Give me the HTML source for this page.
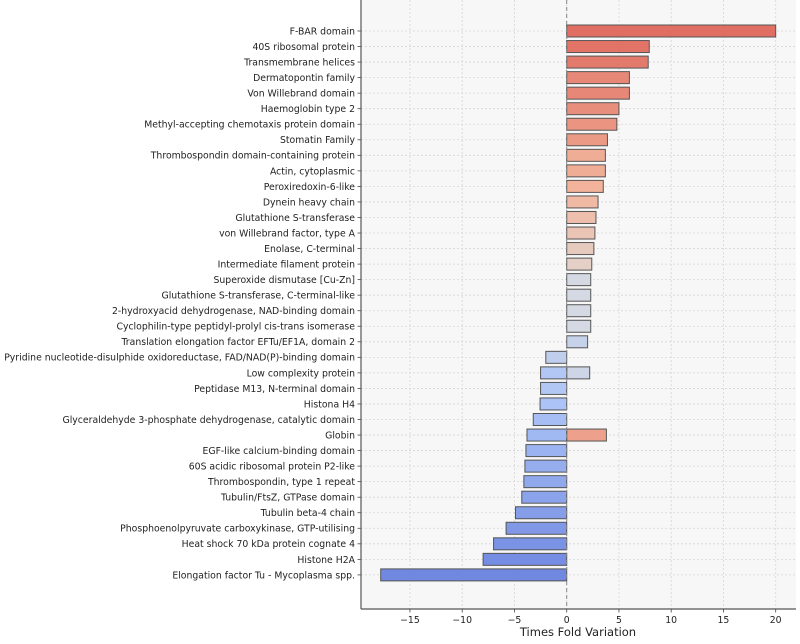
<!DOCTYPE html>
<html><head><meta charset="utf-8"><style>
body{margin:0;background:#fff;font-family:"DejaVu Sans","Liberation Sans",sans-serif;}
svg text{font-family:"DejaVu Sans","Liberation Sans",sans-serif;}
</style></head><body>
<svg id="chart" width="800" height="640" xmlns="http://www.w3.org/2000/svg"></svg>
<script>
const barLabels = ["F-BAR domain","40S ribosomal protein","Transmembrane helices","Dermatopontin family","Von Willebrand domain","Haemoglobin type 2","Methyl-accepting chemotaxis protein domain","Stomatin Family","Thrombospondin domain-containing protein","Actin, cytoplasmic","Peroxiredoxin-6-like","Dynein heavy chain","Glutathione S-transferase","von Willebrand factor, type A","Enolase, C-terminal","Intermediate filament protein","Superoxide dismutase [Cu-Zn]","Glutathione S-transferase, C-terminal-like","2-hydroxyacid dehydrogenase, NAD-binding domain","Cyclophilin-type peptidyl-prolyl cis-trans isomerase","Translation elongation factor EFTu/EF1A, domain 2","Pyridine nucleotide-disulphide oxidoreductase, FAD/NAD(P)-binding domain","Low complexity protein","Low complexity protein","Peptidase M13, N-terminal domain","Histona H4","Glyceraldehyde 3-phosphate dehydrogenase, catalytic domain","Globin","Globin","EGF-like calcium-binding domain","60S acidic ribosomal protein P2-like","Thrombospondin, type 1 repeat","Tubulin/FtsZ, GTPase domain","Tubulin beta-4 chain","Phosphoenolpyruvate carboxykinase, GTP-utilising","Heat shock 70 kDa protein cognate 4","Histone H2A","Elongation factor Tu - Mycoplasma spp."];
const barValues = [20,7.9,7.8,6.0,6.0,5.0,4.8,3.9,3.7,3.7,3.5,3.0,2.8,2.7,2.6,2.4,2.3,2.3,2.3,2.3,2.0,-2.0,2.2,-2.5,-2.5,-2.55,-3.2,3.8,-3.8,-3.9,-4.0,-4.1,-4.3,-4.9,-5.8,-7.0,-8.0,-17.8];
const xTicks = [-15,-10,-5,0,5,10,15,20];

const svg = document.getElementById('chart');
const NS = 'http://www.w3.org/2000/svg';
const L = 361, R = 796, T = 0, B = 609;
const x0 = 566.7, pxPer = 10.45;
const X = v => x0 + v * pxPer;
const rows = [];
barLabels.forEach(l => { if (!rows.includes(l)) rows.push(l); });
const Y = i => 31 + i * 15.54;
function mk(tag, attrs, parent) { const e = document.createElementNS(NS, tag); for (const k in attrs) e.setAttribute(k, attrs[k]); (parent || svg).appendChild(e); return e; }

const bg = mk('rect', {x:L, y:T, width:R-L, height:B-T, fill:'#f7f7f7'});



xTicks.forEach(t => {
  const g = mk('line', {x1:X(t), x2:X(t), y1:T, y2:B, stroke:'#d6d6d6', 'stroke-dasharray':'2,2', 'stroke-width':0.8});
  
  
});
rows.forEach((r, i) => {
  const g = mk('line', {x1:L, x2:R, y1:Y(i), y2:Y(i), stroke:'#d6d6d6', 'stroke-dasharray':'2,2', 'stroke-width':0.8});
  
  
});

const stops = [[0,[112,136,224]],[0.3,[172,196,246]],[0.5,[222,222,222]],[0.7,[242,180,155]],[1,[224,110,98]]];
function cmap(t) {
  for (let k = 1; k < stops.length; k++) {
    if (t <= stops[k][0]) {
      const a = stops[k-1], b = stops[k], f = (t - a[0]) / (b[0] - a[0]);
      return 'rgb(' + a[1].map((c, j) => Math.round(c + (b[1][j] - c) * f)).join(',') + ')';
    }
  }
  return 'rgb(' + stops[stops.length-1][1].join(',') + ')';
}
const sorted = barValues.slice().sort((a, b) => a - b);
const bh = 12;
barValues.forEach((v, i) => {
  const ri = rows.indexOf(barLabels[i]);
  const t = sorted.indexOf(v) / (sorted.length - 1);
  const r = mk('rect', {x:Math.min(X(0), X(v)), y:Y(ri) - bh/2, width:Math.abs(X(v) - X(0)), height:bh, fill:cmap(t), stroke:'#555', 'stroke-width':1});
  
  
});

const zl = mk('line', {x1:X(0), x2:X(0), y1:T, y2:B, stroke:'#888', 'stroke-dasharray':'4,3', 'stroke-width':1});



rows.forEach((r, i) => {
  const tk = mk('line', {x1:L-3.5, x2:L, y1:Y(i), y2:Y(i), stroke:'#444', 'stroke-width':0.8});
  
  
  const tx = mk('text', {x:L-6, y:Y(i)+3.4, 'text-anchor':'end', 'font-size':9.3, fill:'#222'});
  tx.textContent = r;
  
  
});
xTicks.forEach(t => {
  const tk = mk('line', {x1:X(t), x2:X(t), y1:B, y2:B+3.5, stroke:'#444', 'stroke-width':0.8});
  
  
  const tx = mk('text', {x:X(t), y:B+14, 'text-anchor':'middle', 'font-size':9.3, fill:'#222'});
  tx.textContent = t < 0 ? '\u2212' + Math.abs(t) : String(t);
  
  
});

const ls = mk('line', {x1:L, x2:L, y1:T, y2:B, stroke:'#555', 'stroke-width':1.2});


const bs = mk('line', {x1:L, x2:R, y1:B, y2:B, stroke:'#555', 'stroke-width':1.2});



const xt = mk('text', {x:578, y:636, 'text-anchor':'middle', 'font-size':11.5, fill:'#222'});
xt.textContent = 'Times Fold Variation';


</script>
</body></html>
